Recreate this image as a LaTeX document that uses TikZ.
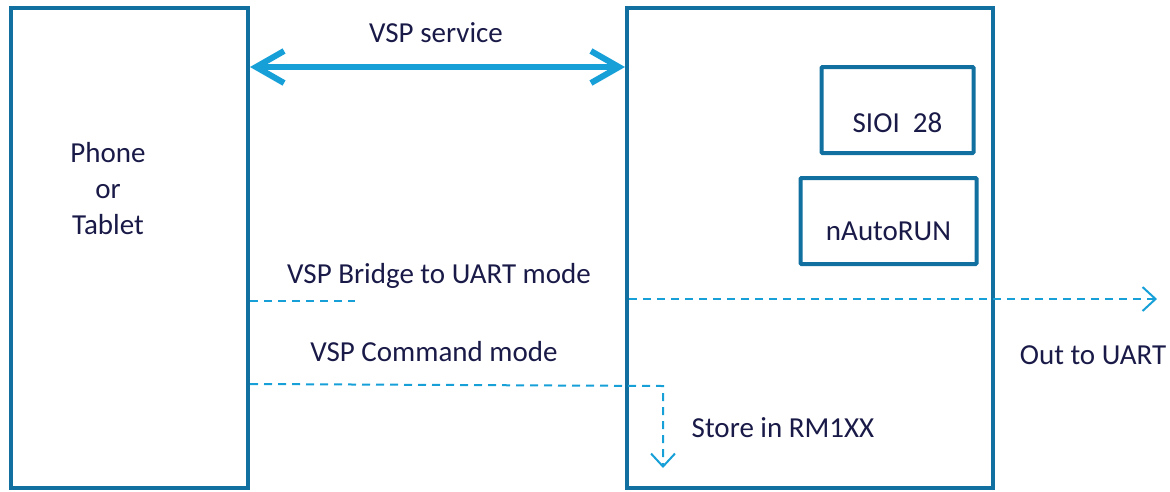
\documentclass[tikz,border=0pt]{standalone}
\usepackage{fontspec}
\setmainfont{Carlito}
\usetikzlibrary{arrows.meta}
\definecolor{boxc}{HTML}{1170A0}
\definecolor{arrc}{HTML}{17A0D8}
\definecolor{txtc}{HTML}{1A1A48}
\begin{document}
\begin{tikzpicture}[x=1pt,y=-1pt,
  blk/.style={draw=boxc,line width=3.5pt},
  sub/.style={draw=boxc,line width=4pt,rounded corners=1pt},
  lbl/.style={text=txtc,font=\fontsize{29}{36}\selectfont,inner sep=0pt},
  dashline/.style={draw=arrc,line width=2pt,dash pattern=on 8pt off 6pt},
  tip/.style={-{Straight Barb[length=13pt,width=24pt,line width=2pt]}}]
\useasboundingbox (0,0) rectangle (1170,491);
\path[blk] (11,8) rectangle (248,488);
\node[lbl,align=center] (phone) at (108,189) {Phone\\or\\Tablet};
\path[blk] (627,8) rectangle (993,488);
\node[sub,minimum width=152pt,minimum height=86pt,inner sep=0pt] (sioi) at (897.5,110) {};
\node[lbl] (sioit) at (897.5,123) {SIOI\ \ 28};
\node[sub,minimum width=176pt,minimum height=86pt,inner sep=0pt] (nauto) at (888.5,221) {};
\node[lbl] (nautot) at (888.5,231) {nAutoRUN};
\coordinate (a1) at (250,67);
\coordinate (a2) at (625,67);
\draw[arrc,line width=6pt,{Straight Barb[length=28pt,width=32pt,line width=6pt]}-{Straight Barb[length=28pt,width=32pt,line width=6pt]}] (a1) -- (a2);
\node[lbl] (svc) at (436,33) {VSP service};
\node[lbl] (brg) at (439,276) {VSP Bridge to UART mode};
\coordinate (b1) at (250,301);
\coordinate (b2) at (355,301);
\draw[dashline] (b1) -- (b2);
\coordinate (c1) at (629,299);
\coordinate (c2) at (1157,299);
\draw[dashline,tip] (c1) -- (c2);
\node[lbl] (out) at (1093,355) {Out to UART};
\node[lbl] (cmd) at (434,352) {VSP Command mode};
\coordinate (d1) at (250,384);
\coordinate (d2) at (663,386);
\coordinate (d3) at (663,468);
\draw[dashline,tip] (d1) -- (d2) -- (d3);
\node[lbl] (store) at (783,428) {Store in RM1XX};
\end{tikzpicture}
\end{document}
